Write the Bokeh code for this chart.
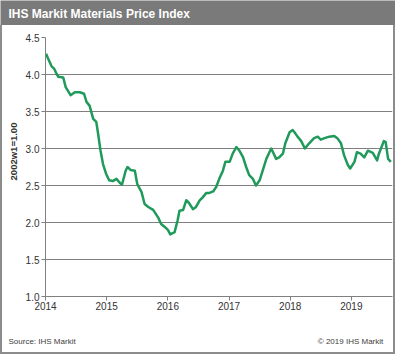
import math
from bokeh.plotting import figure
from bokeh.layouts import column, row
from bokeh.models import Range1d, FixedTicker, Label, ColumnDataSource, PrintfTickFormatter, Spacer
from bokeh.embed import file_html
from bokeh.resources import INLINE

# ---- data (decimal years, index 2002w1 = 1.00) ----
year_frac = [2014.01, 2014.04, 2014.10, 2014.14, 2014.18, 2014.21, 2014.29, 2014.33,
             2014.41, 2014.48, 2014.56, 2014.63, 2014.67, 2014.72, 2014.78, 2014.83,
             2014.86, 2014.90, 2014.94, 2014.99, 2015.04, 2015.10, 2015.16, 2015.21,
             2015.25, 2015.31, 2015.34, 2015.39, 2015.46, 2015.50, 2015.57, 2015.62,
             2015.68, 2015.76, 2015.84, 2015.89, 2015.95, 2016.00, 2016.04, 2016.11,
             2016.16, 2016.19, 2016.25, 2016.30, 2016.34, 2016.41, 2016.46, 2016.52,
             2016.57, 2016.63, 2016.68, 2016.74, 2016.79, 2016.84, 2016.90, 2016.94,
             2017.01, 2017.06, 2017.12, 2017.17, 2017.23, 2017.28, 2017.33, 2017.39,
             2017.44, 2017.50, 2017.55, 2017.61, 2017.66, 2017.69, 2017.77, 2017.82,
             2017.88, 2017.92, 2017.99, 2018.04, 2018.07, 2018.12, 2018.18, 2018.24,
             2018.31, 2018.39, 2018.45, 2018.50, 2018.56, 2018.64, 2018.72, 2018.77,
             2018.83, 2018.88, 2018.94, 2018.98, 2019.05, 2019.09, 2019.15, 2019.21,
             2019.27, 2019.35, 2019.42, 2019.45, 2019.53, 2019.56, 2019.60, 2019.645]
index_values = [4.28, 4.22, 4.11, 4.08, 4.01, 3.97, 3.96, 3.83,
                3.72, 3.76, 3.76, 3.74, 3.63, 3.58, 3.40, 3.36,
                3.20, 2.97, 2.79, 2.66, 2.57, 2.56, 2.59, 2.54,
                2.51, 2.70, 2.75, 2.71, 2.70, 2.52, 2.41, 2.25,
                2.21, 2.17, 2.07, 1.98, 1.94, 1.90, 1.84, 1.87,
                2.03, 2.16, 2.17, 2.30, 2.27, 2.18, 2.21, 2.30,
                2.34, 2.40, 2.40, 2.42, 2.48, 2.59, 2.70, 2.82,
                2.82, 2.93, 3.02, 2.97, 2.88, 2.75, 2.64, 2.59,
                2.50, 2.57, 2.70, 2.86, 2.95, 3.00, 2.86, 2.88,
                2.93, 3.07, 3.22, 3.25, 3.22, 3.16, 3.10, 3.00,
                3.07, 3.14, 3.16, 3.12, 3.14, 3.16, 3.17, 3.14,
                3.07, 2.91, 2.78, 2.73, 2.82, 2.95, 2.93, 2.88,
                2.97, 2.94, 2.84, 2.93, 3.10, 3.09, 2.86, 2.82]
year_ticks = [2014, 2015, 2016, 2017, 2018, 2019]
value_ticks = [1.0, 1.5, 2.0, 2.5, 3.0, 3.5, 4.0, 4.5]

title_text = "IHS Markit Materials Price Index"
y_label_text = "2002w1=1.00"
source_text = "Source:  IHS Markit"
copyright_text = "\u00a9 2019  IHS Markit"

FONT = "Liberation Sans"
BORDER = "#8c8c8c"
BAR = "#7a7a7a"


def blank_fig(w, h, bg):
    f = figure(width=w, height=h, output_backend="svg", toolbar_location=None,
               x_axis_type=None, y_axis_type=None,
               x_range=Range1d(0, 1), y_range=Range1d(0, 1),
               min_border=0, min_border_left=0, min_border_right=0,
               min_border_top=0, min_border_bottom=0)
    f.outline_line_color = None
    f.background_fill_color = bg
    f.border_fill_color = bg
    f.grid.visible = False
    return f


# title bar
title_fig = blank_fig(395, 25, BAR)
title_fig.add_layout(Label(x=8, y=12, x_units="screen", y_units="screen", text=title_text,
                           text_font=FONT, text_font_style="bold", text_font_size="12px",
                           text_color="white", text_baseline="middle", text_align="left"))

# y axis label strip
ylab_fig = blank_fig(20, 295, "white")
ylab_fig.add_layout(Label(x=11, y=145, x_units="screen", y_units="screen",
                          text=y_label_text, angle=math.pi / 2, text_font=FONT,
                          text_font_style="bold", text_font_size="9.5px", text_color="#333333",
                          text_baseline="middle", text_align="center"))

# main chart
p = figure(width=371, height=295, output_backend="svg", toolbar_location=None,
           x_range=Range1d(2014.0, 2019.672), y_range=Range1d(1.0, 4.5),
           min_border_left=22, min_border_right=1, min_border_top=12, min_border_bottom=24)
p.outline_line_color = None
p.background_fill_color = "white"
p.border_fill_color = "white"

src = ColumnDataSource(dict(x=year_frac, y=index_values))
p.line("x", "y", source=src, line_color="#1f9a5a", line_width=2.5, line_join="round")

p.xaxis.ticker = FixedTicker(ticks=year_ticks)
p.yaxis.ticker = FixedTicker(ticks=value_ticks)
p.yaxis.formatter = PrintfTickFormatter(format="%.1f")
for ax in (p.xaxis[0], p.yaxis[0]):
    ax.axis_line_color = "#808080"
    ax.major_tick_line_color = "#808080"
    ax.major_tick_out = 4
    ax.major_tick_in = 0
    ax.minor_tick_line_color = None
    ax.major_label_text_font = FONT
    ax.major_label_text_font_size = "10px"
    ax.major_label_text_color = "#333333"
p.xaxis.major_label_standoff = 1
p.yaxis.major_label_standoff = 2
p.xgrid.visible = False
p.ygrid.ticker = FixedTicker(ticks=value_ticks)
p.ygrid.grid_line_color = "#808080"
p.ygrid.grid_line_width = 1

# source strip
src_fig = blank_fig(391, 32, "white")
src_fig.add_layout(Label(x=6, y=11, x_units="screen", y_units="screen", text=source_text,
                         text_font=FONT, text_font_size="8px", text_color="#404040",
                         text_baseline="middle", text_align="left"))
src_fig.add_layout(Label(x=383, y=11, x_units="screen", y_units="screen", text=copyright_text,
                         text_font=FONT, text_font_size="8px", text_color="#404040",
                         text_baseline="middle", text_align="right"))

inner = column(row(ylab_fig, p, spacing=0), src_fig, spacing=0)
middle = row(Spacer(width=2, height=327, styles={"background-color": BORDER}),
             inner,
             Spacer(width=2, height=327, styles={"background-color": BORDER}), spacing=0)
layout = column(title_fig, middle,
                Spacer(width=395, height=2, styles={"background-color": BORDER}), spacing=0)

open("out.html", "w").write(file_html(layout, INLINE))
